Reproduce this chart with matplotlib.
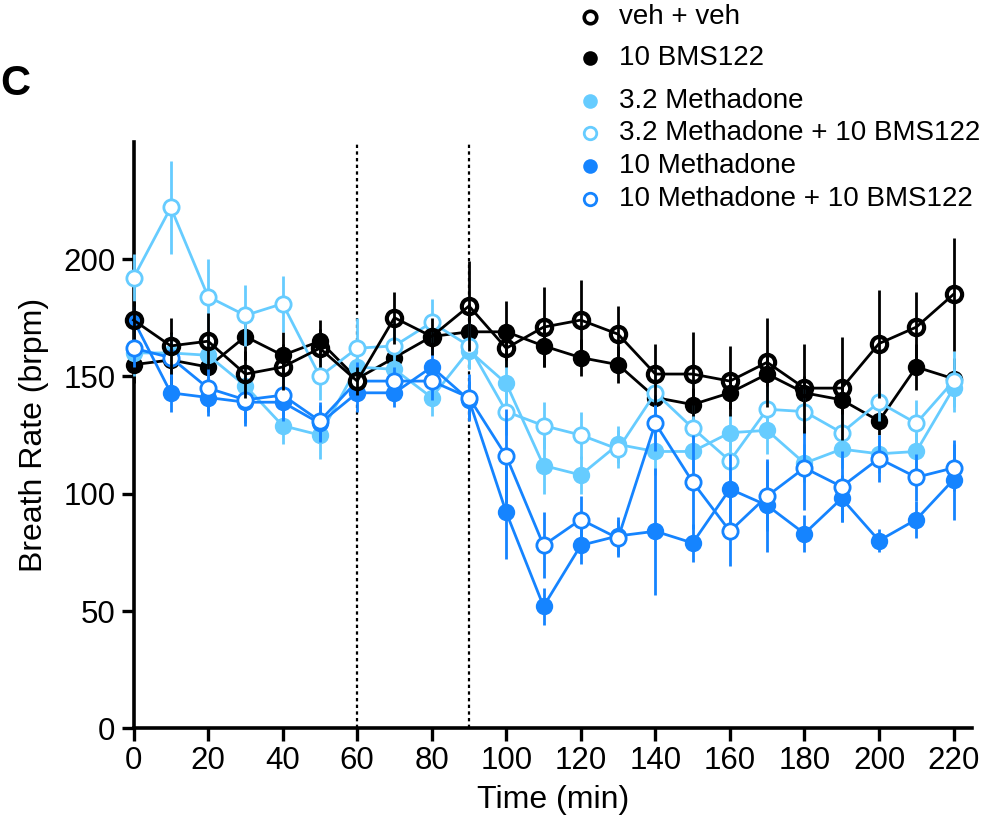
import numpy as np
from matplotlib import pyplot as plt
from matplotlib.lines import Line2D

plt.rcParams['font.family'] = ['Liberation Sans', 'DejaVu Sans']

# time points (min)
time = np.arange(0, 230, 10)

# breath rate means and error (brpm)
veh_veh = [174, 163, 165, 151, 154, 162, 148, 175, 167, 180, 162, 171, 174,
           168, 151, 151, 148, 156, 145, 145, 164, 171, 185]
veh_veh_err = [8, 12, 12, 10, 10, 8, 6, 11, 8, 19, 8, 17, 17,
               12, 13, 18, 15, 19, 19, 22, 23, 15, 24]

bms = [155, 157, 154, 167, 159, 165, 149, 158, 167, 169, 169, 163, 158,
       155, 141, 138, 143, 151, 143, 140, 131, 154, 149]
bms_err = [8, 12, 8, 10, 10, 9, 8, 8, 8, 12, 13, 9, 8,
           8, 8, 7, 7, 8, 7, 8, 6, 10, 9]

m32 = [160, 160, 159, 146, 129, 125, 154, 153, 141, 161, 147, 112, 108,
       121, 118, 118, 126, 127, 113, 119, 117, 118, 145]
m32_err = [10, 8, 10, 8, 8, 10, 10, 8, 8, 8, 10, 12, 8,
           8, 10, 8, 8, 10, 8, 8, 8, 8, 8]

m32_bms = [192, 222, 184, 176, 181, 150, 162, 163, 173, 163, 135, 129, 125,
           119, 143, 128, 114, 136, 135, 126, 139, 130, 148]
m32_bms_err = [10, 20, 16, 13, 12, 10, 13, 10, 10, 10, 10, 10, 10,
               8, 10, 10, 12, 10, 10, 8, 8, 10, 13]

m10 = [174, 143, 141, 139, 139, 130, 143, 143, 154, 140, 92, 52, 78,
       82, 84, 79, 102, 95, 83, 98, 80, 89, 106]
m10_err = [6, 8, 8, 10, 8, 8, 8, 6, 8, 8, 20, 8, 8,
           8, 27, 8, 15, 20, 8, 10, 5, 8, 17]

m10_bms = [162, 158, 145, 140, 142, 131, 148, 148, 148, 141, 116, 78, 89,
           81, 130, 105, 84, 99, 111, 103, 115, 107, 111]
m10_bms_err = [8, 8, 10, 10, 10, 8, 8, 6, 8, 10, 20, 14, 10,
               8, 12, 20, 15, 15, 18, 15, 10, 10, 10]

labels = ["veh + veh", "10 BMS122", "3.2 Methadone",
          "3.2 Methadone + 10 BMS122", "10 Methadone",
          "10 Methadone + 10 BMS122"]

LIGHT = "#66CCFF"
DARK = "#1584FF"

# (values, errors, color, face, edge width, zorder)
series = [
    (bms, bms_err, "black", "black", 1.5, 3),
    (m32, m32_err, LIGHT, LIGHT, 1.5, 3),
    (m32_bms, m32_bms_err, LIGHT, "white", 2.0, 4),
    (m10, m10_err, DARK, DARK, 1.5, 5),
    (m10_bms, m10_bms_err, DARK, "white", 2.0, 6),
    (veh_veh, veh_veh_err, "black", "none", 3.0, 7),
]

fig = plt.figure(figsize=(9.89, 8.32), dpi=100)
ax = fig.add_axes([0.135, 0.1246, 0.848, 0.705])

for vals, err, col, face, mew, z in series:
    ax.errorbar(time, vals, yerr=err, color=col, ecolor=col, elinewidth=2.0,
                capsize=0, lw=2.0, marker='o', ms=11, mfc=face, mec=col,
                mew=mew, zorder=z, clip_on=False)

# injection times
for xv in [60, 90]:
    ax.axvline(xv, ymin=0, ymax=1, color='black', ls=(0, (1.5, 1.5)), lw=1.6, zorder=1)

ax.set_xlim(0, 225)
ax.set_ylim(0, 250)
ax.set_xticks(np.arange(0, 221, 20))
ax.set_yticks([0, 50, 100, 150, 200])
ax.spines['top'].set_visible(False)
ax.spines['right'].set_visible(False)
ax.spines['left'].set_linewidth(2.6)
ax.spines['bottom'].set_linewidth(2.6)
ax.tick_params(axis='both', direction='out', length=9, width=2.4, labelsize=22.5, pad=4)
ax.set_xlabel("Time (min)", fontsize=23, labelpad=6)
ax.set_ylabel("Breath Rate (brpm)", fontsize=23, labelpad=10)

# panel letter
fig.text(0.0, 1 - 84 / 832, "C", fontsize=30, fontweight='bold', ha='left', va='center')

# legend drawn by hand to keep the uneven spacing of the original
leg_y = [17, 58, 101, 133, 166, 199]
leg_style = [("black", "white", 2.6), ("black", "black", 1.5), (LIGHT, LIGHT, 1.5),
             (LIGHT, "white", 2.0), (DARK, DARK, 1.5), (DARK, "white", 2.0)]
for lab, yp, (col, face, mew) in zip(labels, leg_y, leg_style):
    yf = 1 - yp / 832
    fig.add_artist(Line2D([590 / 989], [yf], marker='o', ms=9, mfc=face, mec=col,
                          mew=mew, ls='none', transform=fig.transFigure))
    fig.text(619 / 989, yf, lab, fontsize=20, ha='left', va='center')

plt.savefig("out.png", dpi=100)
